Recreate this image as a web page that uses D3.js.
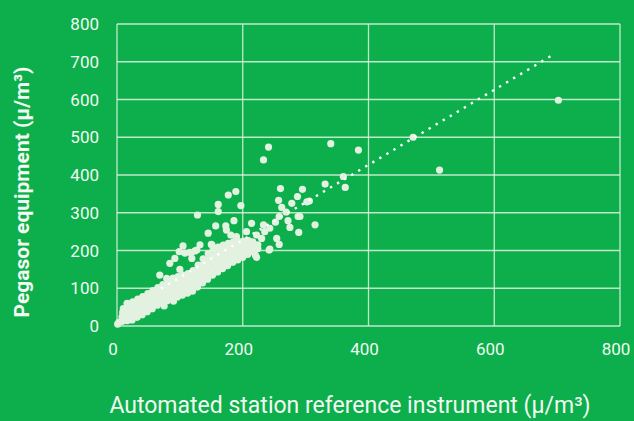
<!DOCTYPE html>
<html>
<head>
<meta charset="utf-8">
<script src="https://cdn.jsdelivr.net/npm/d3@7"></script>
<style>
  html, body { margin: 0; padding: 0; background: #0caf4b; }
  svg { display: block; }
  text { font-family: Roboto, "DejaVu Sans", sans-serif; fill: #f2faf2; }
</style>
</head>
<body>
<div id="chart"></div>
<script>
var xTicks = [0, 200, 400, 600, 800];
var yTicks = [0, 100, 200, 300, 400, 500, 600, 700, 800];

// dense band of readings (reference, pegasor)
var cluster = [
  [1,5],[3,10],
  [8,12],[8,24],[9,36],[10,46],
  [16,14],[16,26],[16,38],[17,50],[16,60],
  [24,16],[24,28],[24,40],[24,52],[25,64],
  [32,23],[32,35],[32,47],[32,59],[33,71],
  [40,30],[40,42],[40,54],[40,66],[41,78],
  [48,38],[48,50],[48,62],[48,74],[49,86],
  [56,46],[56,58],[56,70],[56,82],[57,94],
  [64,55],[64,67],[64,79],[64,91],[65,102],
  [72,61],[72,73],[72,85],[72,97],[73,110],
  [80,67],[80,80],[80,93],[80,106],[81,120],
  [88,72],[88,86],[88,100],[88,114],[89,127],
  [96,77],[96,91],[96,104],[96,118],[97,131],
  [104,82],[104,95],[104,108],[104,122],[105,135],
  [112,87],[112,100],[112,113],[112,126],[113,139],
  [120,92],[120,106],[120,120],[120,134],[121,147],
  [128,103],[128,118],[128,133],[128,148],[129,161],
  [136,114],[136,130],[136,146],[136,162],[137,178],
  [144,124],[144,141],[144,158],[144,175],[145,192],
  [152,135],[152,152],[152,169],[152,186],[153,203],
  [160,143],[160,160],[160,177],[160,194],[161,209],
  [168,152],[168,168],[168,184],[168,200],[169,214],
  [176,160],[176,175],[176,190],[176,205],[177,219],
  [184,169],[184,183],[184,197],[184,211],[185,223],
  [192,175],[192,188],[192,200],[192,213],[193,224],
  [200,182],[200,193],[200,204],[200,215],[201,225],
  [208,190],[208,202],[208,214],[209,226],
  [216,197],[216,208],[216,219],
  [224,205],[224,215]
];

// scattered readings
var outliers = [
  [241,474],[233,440],[340,483],[384,466],[471,500],[513,413],[702,598],
  [360,396],[331,376],[363,367],[295,362],[302,329],[306,331],[291,290],
  [189,356],[177,347],[161,322],[197,319],[161,303],[128,294],
  [260,364],[257,333],[278,325],[287,343],
  [262,314],[269,302],[288,290],[315,268],[272,279],[275,261],[289,248],
  [258,290],[252,275],[243,259],[254,232],[242,201],[233,268],[235,250],
  [222,241],[230,232],[214,272],[216,223],[206,250],[186,279],[173,265],
  [174,254],[157,265],[181,241],[190,237],[145,246],[132,215],[151,215],
  [105,212],[124,199],[108,193],[119,179],[222,182],[116,195],[99,197],
  [92,179],[84,166],[68,135],[79,126],[100,150],[127,201],[150,216],
  [75,53],[220,188],[243,204],[258,216],[90,66],[118,194]
];

// trend line ends
var trend = [[70,99],[695,720]];

var W = 634, H = 421;
var margin = {top: 24, right: 14, bottom: 95, left: 117};

var svg = d3.select("#chart").append("svg")
    .attr("width", W)
    .attr("height", H);

svg.append("rect")
    .attr("width", W)
    .attr("height", H)
    .attr("fill", "#0caf4b");

var x = d3.scaleLinear().domain([0, 800]).range([margin.left, W - margin.right]);
var y = d3.scaleLinear().domain([0, 800]).range([H - margin.bottom, margin.top]);

var grid = svg.append("g");

grid.selectAll("line.h").data(yTicks).enter().append("line")
    .attr("class", "h")
    .attr("x1", x(0)).attr("x2", x(800))
    .attr("y1", d => y(d)).attr("y2", d => y(d))
    .attr("stroke", "#dff2df")
    .attr("stroke-opacity", 0.85)
    .attr("stroke-width", 1.3);

grid.selectAll("line.v").data(xTicks).enter().append("line")
    .attr("class", "v")
    .attr("x1", d => x(d)).attr("x2", d => x(d))
    .attr("y1", y(0)).attr("y2", y(800))
    .attr("stroke", "#dff2df")
    .attr("stroke-opacity", 0.85)
    .attr("stroke-width", 1.3);

var dotFill = "#e2f1e0";

svg.append("g").selectAll("circle").data(cluster.concat(outliers)).enter().append("circle")
    .attr("cx", d => x(d[0]))
    .attr("cy", d => y(d[1]))
    .attr("r", 3.6)
    .attr("fill", dotFill);

svg.append("path")
    .datum(trend)
    .attr("d", d3.line().x(d => x(d[0])).y(d => y(d[1])))
    .attr("fill", "none")
    .attr("stroke", "#ffffff")
    .attr("stroke-width", 2.4)
    .attr("stroke-dasharray", "2.4 5.8");

// tick labels
svg.append("g").selectAll("text").data(yTicks).enter().append("text")
    .attr("x", 99)
    .attr("y", d => y(d) + 6)
    .attr("text-anchor", "end")
    .attr("font-size", 17)
    .text(d => d);

svg.append("g").selectAll("text").data(xTicks).enter().append("text")
    .attr("x", d => x(d) - 4)
    .attr("y", 355)
    .attr("text-anchor", "middle")
    .attr("font-size", 17)
    .text(d => d);

// axis titles
svg.append("text")
    .attr("transform", "translate(29,192) rotate(-90)")
    .attr("text-anchor", "middle")
    .attr("font-size", 21)
    .attr("font-weight", "bold")
    .text("Pegasor equipment (μ/m³)");

svg.append("text")
    .attr("x", 350)
    .attr("y", 413)
    .attr("text-anchor", "middle")
    .attr("font-size", 23)
    .text("Automated station reference instrument (μ/m³)");
</script>
</body>
</html>
